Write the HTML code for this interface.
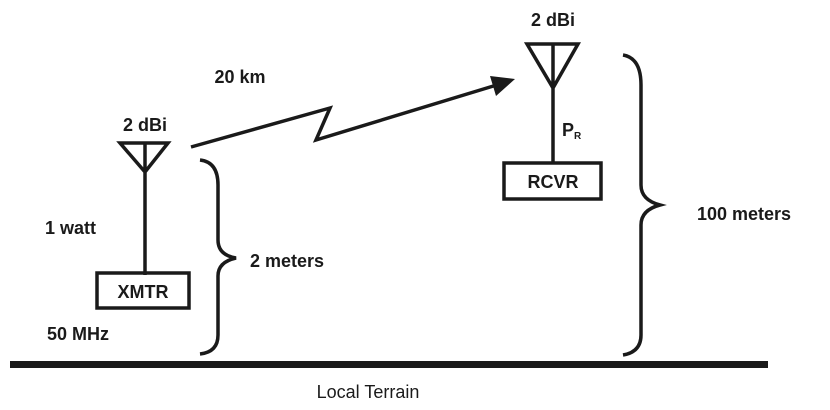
<!DOCTYPE html>
<html><head><style>
body{margin:0;background:#fff;}
svg{display:block}
text{font-family:"Liberation Sans",sans-serif;font-weight:bold;font-size:18px;fill:#1a1a1a}
</style></head><body>
<svg width="830" height="410" viewBox="0 0 830 410">
<g stroke="#1a1a1a" fill="none" stroke-width="3.5" stroke-linejoin="miter">
<path d="M120 143 H168 L145 172 Z M145 143 V275"/>
<rect x="97" y="273" width="92" height="35" stroke-width="3.5"/>
<path d="M527 44 H578 L553 88 Z M553 44 V163"/>
<rect x="504" y="163" width="97" height="36" stroke-width="3.5"/>
<path d="M191 147 L330 108 L316 140 L500 84"/>
<path d="M200 160 Q218 162 218 185 V240 Q218 255 236 258 Q218 262 218 276 V335 Q218 352 200 354"/>
<path d="M623 55 Q641 58 641 85 V185 Q641 200 660 205 Q641 210 641 225 V335 Q641 352 623 355"/>
</g>
<polygon points="515,79 490,76 496,96" fill="#1a1a1a"/>
<rect x="10" y="361" width="758" height="7" fill="#1a1a1a"/>
<text x="145" y="131" text-anchor="middle">2 dBi</text>
<text x="553" y="26" text-anchor="middle">2 dBi</text>
<text x="240" y="83" text-anchor="middle">20 km</text>
<text x="143" y="298" text-anchor="middle">XMTR</text>
<text x="553" y="188" text-anchor="middle">RCVR</text>
<text x="562" y="136">P<tspan font-size="10" dy="3">R</tspan></text>
<text x="45" y="234">1 watt</text>
<text x="47" y="340">50 MHz</text>
<text x="250" y="267">2 meters</text>
<text x="697" y="220">100 meters</text>
<text x="368" y="398" text-anchor="middle" style="font-weight:normal">Local Terrain</text>
</svg>
</body></html>
